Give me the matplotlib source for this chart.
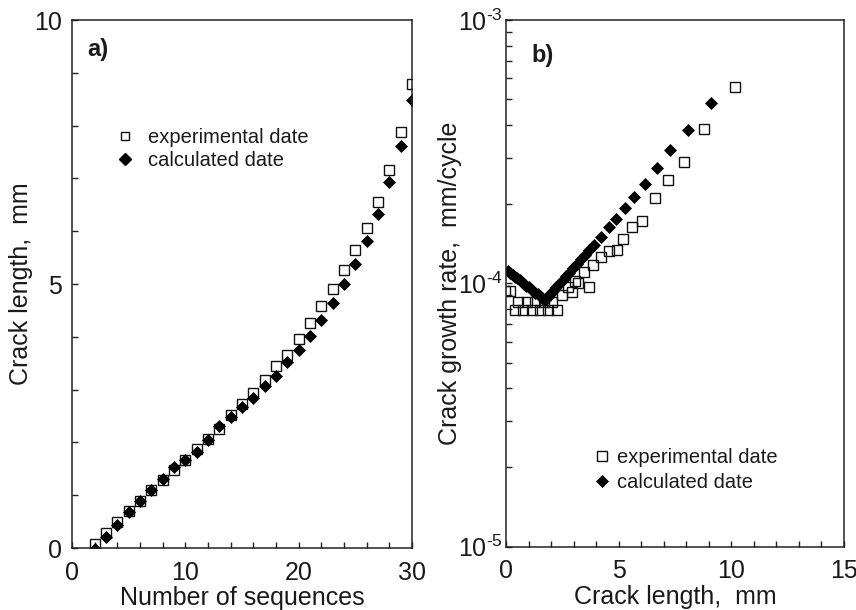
import matplotlib
matplotlib.use("Agg")
import matplotlib.pyplot as plt
from matplotlib.lines import Line2D
from matplotlib.ticker import MultipleLocator, LogLocator, NullFormatter, FixedLocator, FixedFormatter

plt.rcParams['font.family'] = ['Liberation Sans', 'DejaVu Sans']
plt.rcParams['mathtext.fontset'] = 'custom'
plt.rcParams['mathtext.rm'] = 'Liberation Sans'
plt.rcParams['axes.unicode_minus'] = False

# ---------------- data: panel a ----------------
seq_n = [2, 3, 4, 5, 6, 7, 8, 9, 10, 11, 12, 13, 14, 15, 16, 17, 18, 19, 20,
         21, 22, 23, 24, 25, 26, 27, 28, 29, 30]
exp_len = [0.08, 0.29, 0.50, 0.70, 0.90, 1.09, 1.28, 1.47, 1.66, 1.88, 2.07, 2.26,
           2.51, 2.73, 2.93, 3.18, 3.45, 3.66, 3.95, 4.26, 4.59, 4.91, 5.27, 5.64,
           6.07, 6.56, 7.16, 7.88, 8.79]
calc_len = [-0.02, 0.21, 0.43, 0.68, 0.90, 1.10, 1.31, 1.53, 1.67, 1.81, 2.05, 2.31,
            2.48, 2.67, 2.84, 3.06, 3.26, 3.52, 3.75, 4.01, 4.32, 4.64, 5.00, 5.38,
            5.82, 6.33, 6.93, 7.61, 8.49]

# ---------------- data: panel b ----------------
exp_b_x = [-0.05, 0.20, 0.40, 0.55, 0.77, 0.92, 1.14, 1.30, 1.51, 1.68, 1.88, 2.02,
           2.25, 2.50, 2.75, 2.92, 3.05, 3.21, 3.45, 3.69, 3.85, 4.22, 4.55, 4.92,
           5.21, 5.61, 6.03, 6.62, 7.17, 7.91, 8.80, 10.18]
exp_b_y = [9.35e-5, 9.35e-5, 7.9e-5, 8.5e-5, 7.9e-5, 8.5e-5, 7.9e-5, 8.5e-5, 7.9e-5,
           8.5e-5, 7.9e-5, 8.5e-5, 7.9e-5, 9.0e-5, 9.7e-5, 9.3e-5, 1.02e-4, 1.0e-4,
           1.1e-4, 9.66e-5, 1.17e-4, 1.26e-4, 1.33e-4, 1.34e-4, 1.47e-4, 1.64e-4,
           1.72e-4, 2.11e-4, 2.47e-4, 2.90e-4, 3.85e-4, 5.55e-4]

calc_b_x = [0.10, 0.20, 0.30, 0.40, 0.50, 0.60, 0.70, 0.80, 0.90, 1.00, 1.10, 1.20,
            1.30, 1.40, 1.50, 1.60, 1.73, 1.85, 1.97, 2.10, 2.23, 2.37, 2.51, 2.66,
            2.81, 2.97, 3.14, 3.32, 3.51, 3.70, 3.91, 4.21, 4.55, 4.89, 5.27, 5.69,
            6.19, 6.72, 7.26, 8.06, 9.11]
calc_b_y = [1.110e-4, 1.093e-4, 1.076e-4, 1.060e-4, 1.044e-4, 1.028e-4, 1.012e-4,
            0.997e-4, 0.981e-4, 0.966e-4, 0.951e-4, 0.937e-4, 0.923e-4, 0.909e-4,
            0.895e-4, 0.881e-4, 0.865e-4, 0.888e-4, 0.911e-4, 0.938e-4, 0.966e-4,
            0.997e-4, 1.028e-4, 1.063e-4, 1.099e-4, 1.139e-4, 1.183e-4, 1.232e-4,
            1.285e-4, 1.340e-4, 1.40e-4, 1.50e-4, 1.63e-4, 1.76e-4, 1.93e-4, 2.12e-4,
            2.38e-4, 2.73e-4, 3.21e-4, 3.82e-4, 4.83e-4]

ytick_b_vals = [1e-5, 1e-4, 1e-3]
ytick_b_labels = ["10$^{\\text{-5}}$", "10$^{\\text{-4}}$", "10$^{\\text{-3}}$"]

lbl_exp = "experimental date"
lbl_calc = "calculated date"

TXT = '#1a1a1a'
fig = plt.figure(figsize=(8.56, 6.10), dpi=100)
axa = fig.add_axes([0.0841, 0.1016, 0.3972, 0.8656])
axb = fig.add_axes([0.5911, 0.1038, 0.3949, 0.8634])

sq_kw = dict(linestyle='none', marker='s', markersize=7.2, markerfacecolor='none',
             markeredgecolor='#111111', markeredgewidth=1.0)
di_kw = dict(linestyle='none', marker='D', markersize=5.9, markerfacecolor='#000000',
             markeredgecolor='#000000', markeredgewidth=0.5)

# ----- panel a -----
axa.plot(seq_n, exp_len, **sq_kw)
axa.plot(seq_n, calc_len, **di_kw)
axa.set_xlim(0, 30)
axa.set_ylim(0, 10)
axa.xaxis.set_major_locator(MultipleLocator(10))
axa.xaxis.set_minor_locator(MultipleLocator(2))
axa.yaxis.set_major_locator(MultipleLocator(5))
axa.yaxis.set_minor_locator(MultipleLocator(1))
axa.set_xlabel("Number of sequences", fontsize=18, color=TXT, labelpad=1)
axa.set_ylabel("Crack length,  mm", fontsize=18, color=TXT)
axa.yaxis.set_label_coords(-0.114, 0.5)
axa.text(0.045, 0.965, "a)", transform=axa.transAxes, fontsize=17, fontweight='bold',
         va='top', ha='left', color=TXT)
ha = [Line2D([], [], linestyle='none', marker='s', markersize=5.5, markerfacecolor='none',
             markeredgecolor='#111111', markeredgewidth=1.0),
      Line2D([], [], linestyle='none', marker='D', markersize=6.2, markerfacecolor='#000000',
             markeredgecolor='#000000')]
axa.legend(ha, [lbl_exp, lbl_calc], loc='center left', bbox_to_anchor=(0.127, 0.756),
           frameon=False, fontsize=14.5, handlelength=1.0, handletextpad=0.65,
           labelspacing=0.2, borderpad=0, borderaxespad=0, labelcolor=TXT)

# ----- panel b -----
axb.plot(exp_b_x, exp_b_y, **sq_kw)
axb.plot(calc_b_x, calc_b_y, **di_kw)
axb.set_yscale('log')
axb.set_xlim(0, 15)
axb.set_ylim(1e-5, 1e-3)
axb.xaxis.set_major_locator(MultipleLocator(5))
axb.xaxis.set_minor_locator(MultipleLocator(1))
axb.yaxis.set_major_locator(FixedLocator(ytick_b_vals))
axb.yaxis.set_major_formatter(FixedFormatter(ytick_b_labels))
axb.yaxis.set_minor_locator(LogLocator(base=10, subs=(2, 3, 4, 5, 6, 7, 8, 9)))
axb.yaxis.set_minor_formatter(NullFormatter())
axb.set_xlabel("Crack length,  mm", fontsize=18, color=TXT, labelpad=1)
axb.set_ylabel("Crack growth rate,  mm/cycle", fontsize=18, color=TXT)
axb.yaxis.set_label_coords(-0.13, 0.5)
axb.text(0.075, 0.955, "b)", transform=axb.transAxes, fontsize=17, fontweight='bold',
         va='top', ha='left', color=TXT)
hb = [Line2D([], [], **sq_kw), Line2D([], [], **di_kw)]
hb[0].set_markersize(7.5)
hb[1].set_markersize(6.5)
axb.legend(hb, [lbl_exp, lbl_calc], loc='center left', bbox_to_anchor=(0.2535, 0.145),
           frameon=False, fontsize=14.5, handlelength=1.0, handletextpad=0.25,
           labelspacing=0.3, borderpad=0, borderaxespad=0, labelcolor=TXT)

for ax in (axa, axb):
    for s in ax.spines.values():
        s.set_linewidth(1.1)
        s.set_color('#222222')
    ax.tick_params(which='both', direction='in', length=4.5, width=1.0, color='#222222',
                   top=False, right=False, labelsize=18, labelcolor=TXT)
    ax.tick_params(axis='x', which='both', pad=9)
axa.tick_params(axis='y', which='both', pad=7)
axb.tick_params(axis='y', which='both', pad=2)

fig.savefig("out.png", dpi=100)
